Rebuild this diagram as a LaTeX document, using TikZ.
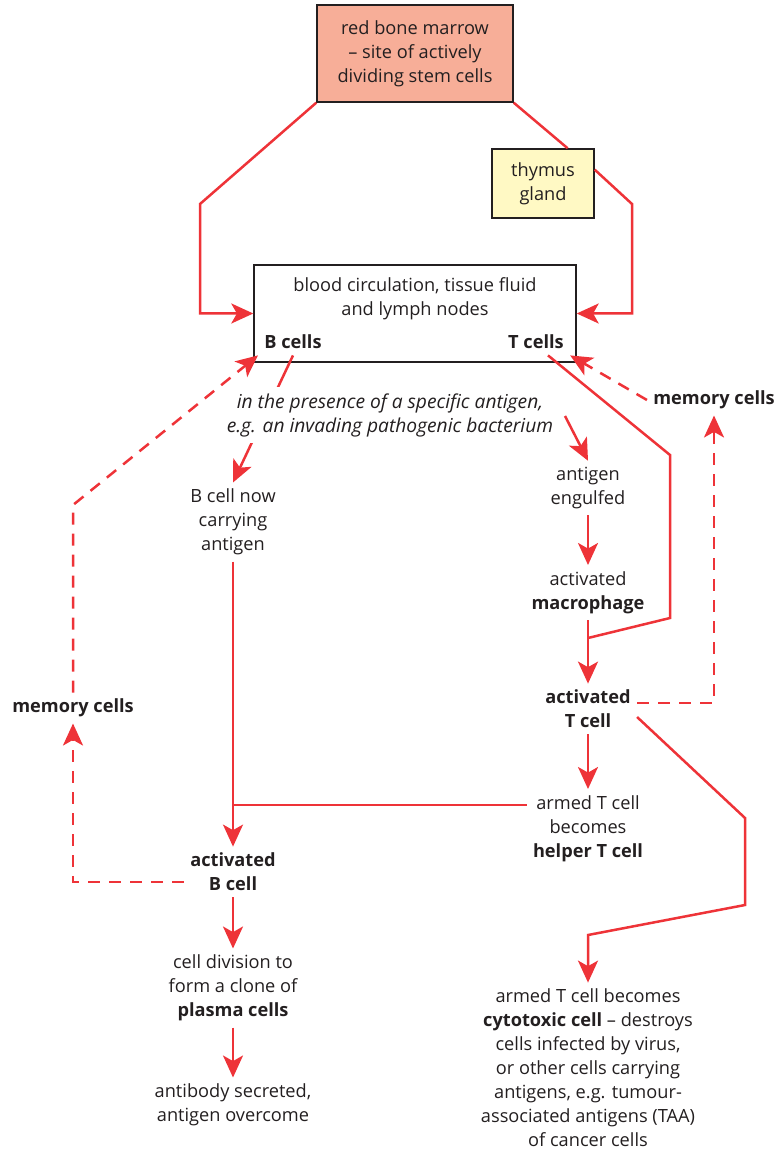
\documentclass[tikz,border=0pt]{standalone}
\usepackage{fontspec}
\setmainfont{Open Sans}
\usetikzlibrary{arrows.meta}
\definecolor{arrowred}{HTML}{EE3338}
\definecolor{marrowfill}{HTML}{F7AE98}
\definecolor{thymusfill}{HTML}{FFF9C4}
\definecolor{textgray}{HTML}{231F20}
\newcommand{\basefont}{\fontsize{9.1}{12}\selectfont}

\begin{document}
\begin{tikzpicture}[x=0.5pt,y=-0.5pt,
  every node/.style={align=center,text=textgray,inner sep=3pt,font=\basefont},
  strong/.style={font=\basefont\bfseries},
  slant/.style={font=\fontsize{9.6}{12}\selectfont\itshape},
  box/.style={draw=textgray,line width=0.7pt},
  flow/.style={draw=arrowred,line width=1.25pt},
  flowarrow/.style={flow,-{Stealth[length=11pt,width=10pt,inset=2.8pt]}},
  memarrow/.style={flowarrow,dash pattern=on 6pt off 4.5pt}]
\useasboundingbox (0,0) rectangle (776,1149);

% sources
\node[box,fill=marrowfill,minimum width=98pt,minimum height=48.5pt] (marrow) at (415,53.5)
{red bone marrow\\– site of actively\\dividing stem cells};
\node[box,fill=thymusfill,minimum width=51pt,minimum height=34.5pt] (thymus) at (543,183.5)
{thymus\\gland};
\node[box,minimum width=161pt,minimum height=48.5pt] (blood) at (415,313.5) {};
\node (bloodtext) at (415,299) {blood circulation, tissue fluid\\and lymph nodes};
\node[strong] (bcells) at (293,342) {B cells};
\node[strong] (tcells) at (536,342) {T cells};

% B cell side
\node (carrying) at (233,522) {B cell now\\carrying\\antigen};
\node[strong] (actB) at (233,872) {activated\\B cell};
\node (plasma) at (233,988) {cell division to\\form a clone of\\\textbf{plasma cells}};
\node (antibody) at (233,1105) {antibody secreted,\\antigen overcome};
\node[strong] (memL) at (73,708) {memory cells};

% T cell side
\node (engulfed) at (588,488) {antigen\\engulfed};
\node (macro) at (588,592.5) {activated\\\textbf{macrophage}};
\node[strong] (actT) at (588,709) {activated\\T cell};
\node (helper) at (588,828.5) {armed T cell\\becomes\\\textbf{helper T cell}};
\node (cytotoxic) at (588,1068) {armed T cell becomes\\\textbf{cytotoxic cell} – destroys\\cells infected by virus,\\or other cells carrying\\antigens, e.g. tumour-\\associated antigens (TAA)\\of cancer cells};
\node[strong] (memR) at (714,400) {memory cells};

\coordinate (pstart) at (565,416);
\coordinate (tjoin) at (588,638);
\coordinate (bjoin) at (233,805);

% into the circulation
\draw[flowarrow] (marrow.south west) -- (200,204) |- (blood.west);
\draw[flow] (marrow.south east) -- (thymus.55);
\draw[flowarrow] (thymus.15) -- (632,204) |- (blood.east);

\draw[flowarrow] (bcells.south) -- (carrying.north);
\node[slant,fill=white] (presence) at (390,415)
{in the presence of a specific antigen,\\e.g. an invading pathogenic bacterium};
\draw[flowarrow] (pstart) -- (engulfed.north);

\draw[flow] ([xshift=6pt]tcells.south) -- (670,455) -- (670,618) -- (tjoin);
\draw[flowarrow] (engulfed.south) -- (macro.north);
\draw[flowarrow] (macro.south) -- (actT.north);
\draw[flowarrow] (actT.south) -- (helper.north);
\draw[flowarrow] ([yshift=-4pt]actT.east) -- (745,818) -- (745,905) -- (588,935) -- (cytotoxic.north);
\draw[memarrow] ([yshift=3pt]actT.east) -| (memR.south);
\draw[memarrow] (memR.west) -- (tcells.south east);

\draw[flowarrow] (carrying.south) -- (actB.north);
\draw[flow] (helper.west |- bjoin) -- (bjoin);
\draw[memarrow] ([yshift=-5pt]actB.west) -| (memL.south);
\draw[memarrow] (memL.north) -- (73,505) -- (bcells.south west);
\draw[flowarrow] (actB.south) -- (plasma.north);
\draw[flowarrow] (plasma.south) -- (antibody.north);
\end{tikzpicture}
\end{document}
